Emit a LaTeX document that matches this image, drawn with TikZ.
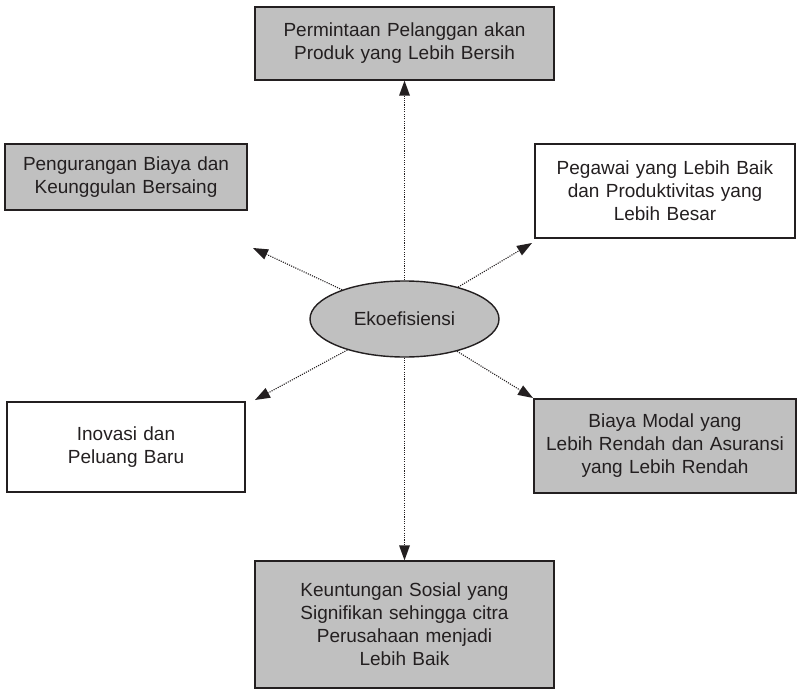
\documentclass[tikz,border=0pt]{standalone}
\usepackage{fontspec}
\setmainfont{Liberation Sans}
\usetikzlibrary{arrows.meta,shapes.geometric}
\definecolor{boxgray}{RGB}{192,192,192}
\definecolor{ink}{RGB}{35,31,32}
\tikzset{
  box/.style={draw=ink, line width=1.4pt, inner sep=0pt, align=center, text=ink,
    font=\fontsize{19}{23}\selectfont},
  grayfill/.style={fill=boxgray},
  conn/.style={draw=ink, line width=1.1pt, dash pattern=on 1.1pt off 1.2pt,
    -{Triangle[length=15pt,width=11pt,line width=0pt]}},
}
\begin{document}
\begin{tikzpicture}[x=1pt,y=-1pt]
\useasboundingbox (0,0) rectangle (797,690);
\node[box,grayfill,minimum width=299pt,minimum height=73pt,text width=299pt] (top) at (404.5,43.5)
  {Permintaan Pelanggan akan\\Produk yang Lebih Bersih};
\node[box,grayfill,minimum width=242pt,minimum height=66pt,text width=242pt] (ul) at (126,177)
  {Pengurangan Biaya dan\\Keunggulan Bersaing};
\node[box,minimum width=260pt,minimum height=94pt,text width=260pt] (ur) at (665,191)
  {Pegawai yang Lebih Baik\\dan Produktivitas yang\\Lebih Besar};
\node[box,minimum width=238pt,minimum height=90pt,text width=238pt] (ll) at (126,447)
  {Inovasi dan\\Peluang Baru};
\node[box,grayfill,minimum width=260pt,minimum height=94pt,text width=262pt] (lr) at (665,446)
  {Biaya Modal yang\\Lebih Rendah dan Asuransi\\yang Lebih Rendah};
\node[box,grayfill,minimum width=299pt,minimum height=127pt,text width=299pt] (bot) at (404.5,624.5)
  {Keuntungan Sosial yang\\Signifikan sehingga citra\\Perusahaan menjadi\\Lebih Baik};
\node[box,grayfill,ellipse,minimum width=189pt,minimum height=76pt] (e) at (404.5,319)
  {Ekoefisiensi};
\coordinate (pul) at (253,248);
\coordinate (pur) at (532,243);
\coordinate (pll) at (255,400);
\coordinate (plr) at (533,398);
\draw[conn] (e.north -| top.south) -- (top.south);
\draw[conn] (e.south -| bot.north) -- (bot.north);
\draw[conn] (e) -- (pul);
\draw[conn] (e) -- (pur);
\draw[conn] (e) -- (pll);
\draw[conn] (e) -- (plr);
\end{tikzpicture}
\end{document}
